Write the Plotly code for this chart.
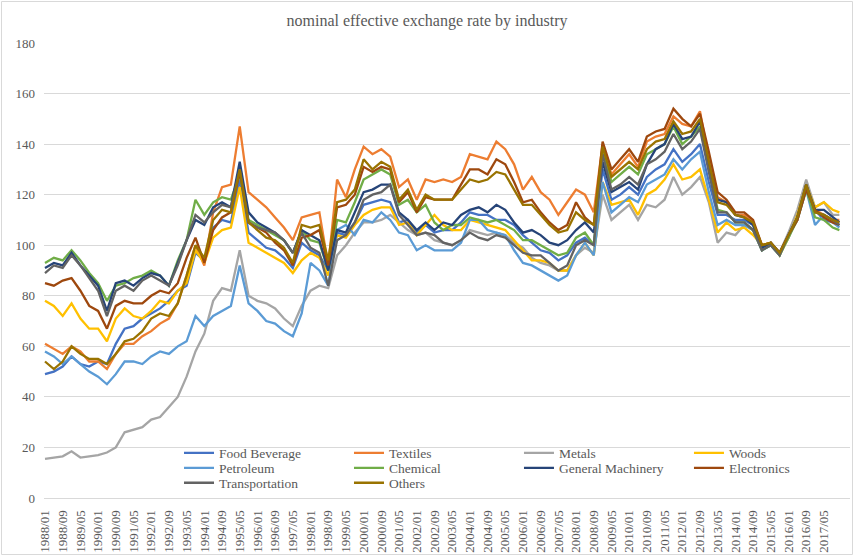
import plotly.graph_objects as go

# sample dates (every 4 months, 1988/01 .. 2017/09, plus 2017/12)
dates = [f"{1988 + m // 12}/{m % 12 + 1:02d}" for m in range(0, 360, 4)] + ["2017/12"]

food_beverage = [49, 50, 52, 56, 53, 52, 54, 53, 61, 67, 68, 71, 73, 75, 78, 82,
                 84, 97, 94, 107, 110, 109, 126, 105, 102, 99, 98, 95, 91, 101, 98, 96,
                 90, 105, 104, 109, 116, 117, 118, 117, 109, 110, 105, 108, 105, 106, 106,
                 109, 113, 112, 112, 110, 110, 108, 104, 101, 98, 97, 94, 96, 101, 103, 100,
                 130, 118, 120, 123, 120, 127, 130, 132, 138, 133, 136, 140, 125, 112, 112, 110,
                 110, 108, 99, 100, 97, 103, 111, 123, 114, 110, 109, 108]
textiles = [61, 59, 57, 60, 58, 54, 54, 51, 57, 61, 61, 64, 66, 69, 71, 77,
            88, 100, 92, 113, 123, 124, 147, 121, 118, 115, 111, 107, 102, 111, 112, 113,
            92, 126, 119, 130, 139, 136, 138, 135, 123, 126, 118, 126, 125, 126, 125,
            127, 136, 135, 134, 141, 138, 132, 122, 127, 121, 118, 112, 117, 122, 120, 113,
            140, 128, 132, 136, 131, 141, 143, 144, 151, 148, 147, 153, 134, 119, 117, 112,
            112, 109, 100, 101, 97, 104, 110, 123, 114, 112, 110, 110]
metals = [15.5, 16, 16.5, 18.5, 16, 16.5, 17, 18, 20, 26, 27, 28, 31, 32, 36, 40,
          48, 58, 65, 78, 83, 82, 98, 80, 78, 77, 75, 71, 68, 76, 82, 84,
          83, 96, 100, 105, 109, 109, 110, 112, 109, 106, 104, 105, 102, 101, 100,
          102, 106, 105, 104, 105, 104, 101, 99, 95, 93, 92, 90, 90, 96, 99, 97,
          120, 110, 113, 116, 110, 116, 115, 118, 127, 120, 123, 127, 117, 101, 105, 104,
          108, 106, 98, 101, 97, 105, 114, 126, 115, 117, 112, 112]
woods = [78, 76, 72, 77, 71, 67, 67, 62, 71, 75, 72, 71, 74, 78, 77, 82,
         85, 98, 93, 103, 106, 107, 123, 101, 99, 97, 95, 93, 89, 94, 97, 95,
         88, 104, 103, 108, 112, 114, 115, 115, 108, 109, 104, 108, 112, 108, 106,
         106, 110, 109, 108, 107, 106, 102, 98, 94, 94, 93, 90, 90, 96, 101, 96,
         125, 116, 117, 118, 112, 120, 122, 126, 132, 126, 127, 130, 118, 105, 109, 106,
         107, 104, 100, 101, 96, 103, 112, 124, 115, 117, 114, 113]
petroleum = [58, 56, 53, 56, 53, 50, 48, 45, 49, 54, 54, 53, 56, 58, 57, 60,
             62, 72, 68, 72, 74, 76, 92, 77, 74, 70, 69, 66, 64, 73, 93, 90,
             84, 106, 108, 104, 110, 109, 113, 110, 105, 104, 98, 100, 98, 98, 98,
             101, 110, 110, 106, 105, 104, 98, 93, 92, 90, 88, 86, 88, 96, 101, 96,
             125, 113, 116, 119, 117, 124, 126, 128, 134, 130, 134, 137, 121, 108, 110, 108,
             108, 106, 98, 100, 96, 104, 110, 122, 108, 112, 109, 107]
chemical = [93, 95, 94, 98, 94, 89, 85, 78, 84, 85, 87, 88, 90, 88, 84, 94,
            102, 118, 112, 117, 119, 118, 128, 110, 108, 106, 104, 102, 97, 106, 102, 101,
            90, 110, 109, 117, 126, 128, 130, 128, 116, 118, 113, 116, 109, 106, 108,
            108, 111, 110, 109, 110, 108, 106, 102, 102, 100, 98, 96, 97, 103, 105, 100,
            137, 125, 128, 131, 128, 136, 138, 140, 147, 140, 143, 147, 130, 114, 113, 109,
            109, 106, 98, 100, 96, 103, 110, 122, 111, 110, 107, 106]
general_machinery = [91, 93, 92, 97, 92, 88, 84, 74, 85, 86, 84, 87, 89, 88, 84, 93,
                     102, 110, 108, 115, 117, 115, 133, 113, 109, 107, 105, 102, 97, 106, 104, 102,
                     90, 106, 105, 113, 121, 122, 124, 124, 113, 110, 106, 109, 106, 109, 108,
                     112, 114, 115, 113, 116, 114, 109, 105, 106, 104, 101, 100, 102, 106, 109, 105,
                     133, 121, 123, 125, 122, 132, 138, 140, 148, 142, 143, 149, 132, 118, 117, 112,
                     111, 108, 99, 101, 97, 104, 111, 124, 114, 114, 111, 109]
electronics = [85, 84, 86, 87, 82, 76, 74, 67, 76, 78, 77, 77, 80, 82, 81, 85,
               95, 103, 93, 106, 111, 113, 129, 109, 107, 105, 101, 98, 92, 103, 104, 106,
               92, 115, 116, 120, 131, 129, 131, 130, 117, 121, 113, 119, 118, 118, 118,
               124, 130, 130, 128, 134, 132, 125, 117, 118, 113, 109, 106, 108, 117, 111, 108,
               141, 130, 134, 138, 133, 143, 145, 146, 154, 150, 147, 152, 137, 121, 118, 113,
               113, 110, 100, 101, 97, 104, 110, 122, 114, 111, 109, 108]
transportation = [89, 92, 91, 96, 92, 87, 82, 72, 82, 84, 82, 86, 88, 86, 84, 92,
                  102, 112, 109, 113, 116, 115, 130, 109, 107, 106, 105, 102, 97, 105, 99, 97,
                  84, 102, 104, 109, 118, 120, 121, 124, 112, 108, 104, 105, 104, 101, 100,
                  102, 105, 103, 102, 104, 103, 100, 97, 96, 96, 93, 90, 92, 100, 102, 100,
                  136, 122, 124, 127, 124, 132, 134, 137, 144, 138, 141, 146, 129, 113, 113, 109,
                  109, 106, 98, 100, 96, 104, 111, 124, 113, 112, 110, 108]
others = [54, 51, 54, 60, 57, 55, 55, 53, 57, 62, 63, 66, 71, 73, 72, 77,
          88, 100, 95, 110, 114, 113, 130, 109, 106, 103, 102, 99, 93, 108, 107, 108,
          94, 117, 118, 122, 134, 130, 133, 131, 118, 122, 114, 120, 118, 118, 118,
          122, 126, 125, 126, 129, 128, 122, 116, 116, 112, 108, 105, 106, 113, 110, 108,
          139, 127, 130, 133, 130, 138, 141, 142, 149, 144, 145, 150, 133, 117, 116, 112,
          111, 109, 100, 101, 97, 104, 111, 124, 113, 112, 110, 109]

tick_labels = [f"{1988 + m // 12}/{m % 12 + 1:02d}" for m in range(0, 353, 8)]

names = ["Food Beverage", "Textiles", "Metals", "Woods", "Petroleum",
         "Chemical", "General Machinery", "Electronics", "Transportation", "Others"]
values = [food_beverage, textiles, metals, woods, petroleum,
          chemical, general_machinery, electronics, transportation, others]
colors = ["#4472C4", "#ED7D31", "#A5A5A5", "#FFC000", "#5B9BD5",
          "#70AD47", "#264478", "#9E480E", "#636363", "#997300"]

# legend grid: 4 columns x 3 rows, one small legend per entry
col_x = [0.1675, 0.3784, 0.5893, 0.8002]
row_y = [0.0989, 0.0659, 0.033]


def month_index(label):
    y, m = label.split("/")
    return (int(y) - 1988) * 12 + int(m) - 1


x = [month_index(d) for d in dates]
font = "Liberation Serif, Times New Roman, serif"

fig = go.Figure()
legends = {}
for i, (name, vals, color) in enumerate(zip(names, values, colors)):
    key = "legend" if i == 0 else f"legend{i + 1}"
    fig.add_trace(go.Scatter(x=x, y=vals, name=name, mode="lines",
                             line=dict(color=color, width=2.3),
                             legend=key, showlegend=True))
    legends[key] = dict(x=col_x[i % 4], y=row_y[i // 4],
                        xanchor="left", yanchor="middle",
                        bgcolor="rgba(0,0,0,0)", borderwidth=0,
                        font=dict(family=font, size=13.5, color="#595959"))

fig.update_layout(
    width=854, height=556, autosize=False, showlegend=True,
    margin=dict(l=44, r=4, t=43, b=58),
    paper_bgcolor="white", plot_bgcolor="white",
    title=dict(text="nominal effective exchange rate by industry",
               x=0.5, xref="container", xanchor="center",
               y=1 - 20 / 556, yref="container", yanchor="middle",
               font=dict(family=font, size=16, color="#595959")),
    xaxis=dict(range=[-0.45, 363.8], tickvals=list(range(0, 353, 8)),
               ticktext=tick_labels, tickangle=-90, showgrid=False,
               showline=True, linecolor="#D9D9D9", linewidth=1,
               ticks="", ticklabelstandoff=6, zeroline=False,
               tickfont=dict(family=font, size=13, color="#595959")),
    yaxis=dict(range=[0, 180], dtick=20, showgrid=True, gridcolor="#D9D9D9",
               gridwidth=1, zeroline=False, showline=False, ticks="",
               ticklabelstandoff=8,
               tickfont=dict(family=font, size=13, color="#595959")),
    shapes=[dict(type="rect", xref="paper", yref="paper",
                 x0=-0.0527, x1=1.0031, y0=-0.1242, y1=1.0912,
                 line=dict(color="#D9D9D9", width=1), layer="below")],
    **legends,
)

fig.write_html("out.html", config={"displayModeBar": False},
               post_script="document.body.style.margin='0px';")
